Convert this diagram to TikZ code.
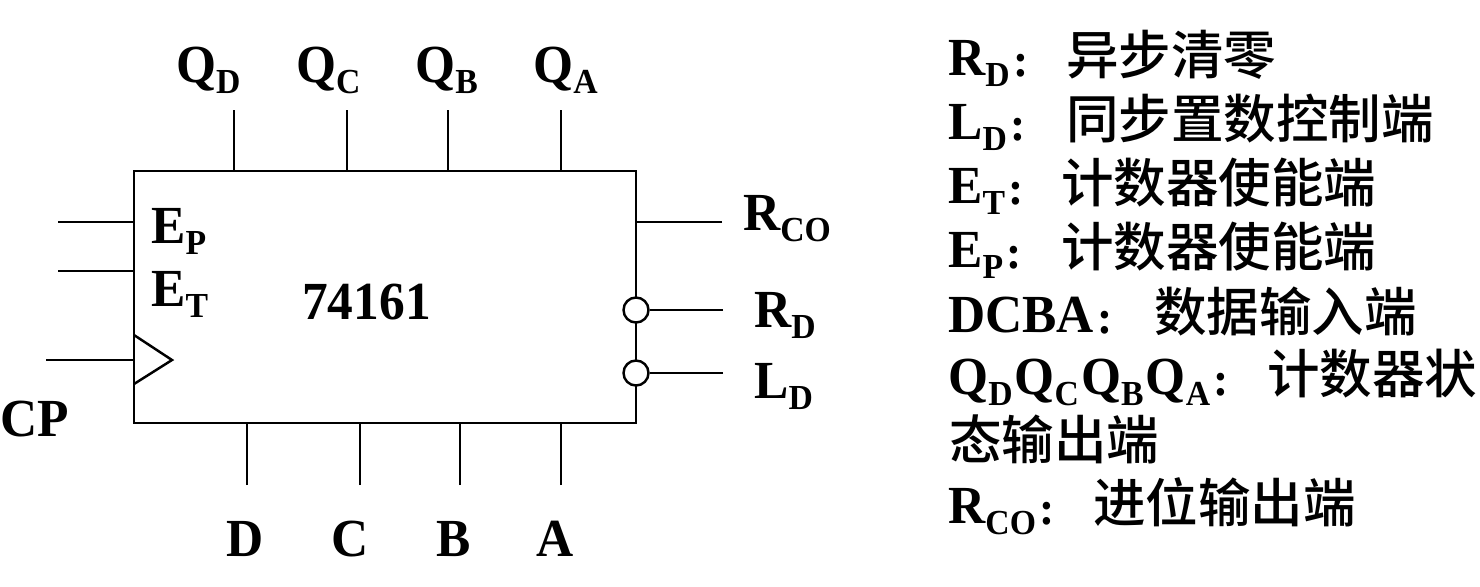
\documentclass[tikz,border=0pt]{standalone}
\usepackage{fontspec}
\setmainfont{Liberation Serif}[FakeStretch=0.96]
\newfontfamily\cjkfont{Noto Sans CJK SC}[BoldFont={* Medium}]
\usepackage{tikz}
\usetikzlibrary{positioning}
\newcommand{\pinsub}[2]{#1\raisebox{-6.3pt}{\fontsize{20}{20}\selectfont #2}}
\newcommand{\pincolon}{\hspace{2pt}\raisebox{-1pt}{\fontsize{27}{27}\selectfont :}}
\newcommand{\cjktext}[1]{{\fontsize{29.9}{32}\selectfont\cjkfont\bfseries #1}}
\begin{document}
\begin{tikzpicture}[x=0.02cm,y=-0.02cm,line width=1.4pt]
        \tikzstyle{chip}=[rectangle,draw,minimum width=502*0.02cm,minimum height=252*0.02cm,inner sep=0pt]
        \tikzstyle{bubble}=[circle,draw,fill=white,minimum size=25*0.02cm,inner sep=0pt]
        \tikzstyle{pin}=[anchor=base west,inner sep=0pt,font=\fontsize{30.5}{32}\selectfont\bfseries]
        \tikzstyle{note}=[pin]
        \useasboundingbox (0,0) rectangle (1480,586);
        \begin{scope}
        \node[chip](chip) at (385,297){};
        \node[bubble](rdb) at (636,310){};
        \node[bubble](ldb) at (636,373){};
        \coordinate (tria) at (134,335);
        \coordinate (trib) at (172,360);
        \coordinate (tric) at (134,384);
        \draw (tria) -- (trib) -- (tric);
        % ends of the pins
        \coordinate (qdend) at (234,110);
        \coordinate (qcend) at (347,110);
        \coordinate (qbend) at (448,110);
        \coordinate (qaend) at (561,110);
        \coordinate (dend) at (247,485);
        \coordinate (cend) at (360,485);
        \coordinate (bend) at (460,485);
        \coordinate (aend) at (561,485);
        \coordinate (epend) at (58,222);
        \coordinate (etend) at (58,271);
        \coordinate (cpend) at (46,360);
        \coordinate (rcoend) at (722,222);
        \coordinate (rdend) at (723,310);
        \coordinate (ldend) at (723,373);
        \draw (qdend) -- (qdend |- chip.north);
        \draw (qcend) -- (qcend |- chip.north);
        \draw (qbend) -- (qbend |- chip.north);
        \draw (qaend) -- (qaend |- chip.north);
        \draw (dend) -- (dend |- chip.south);
        \draw (cend) -- (cend |- chip.south);
        \draw (bend) -- (bend |- chip.south);
        \draw (aend) -- (aend |- chip.south);
        \draw (epend) -- (epend -| chip.west);
        \draw (etend) -- (etend -| chip.west);
        \draw (cpend) -- (cpend -| chip.west);
        \draw (rcoend) -- (rcoend -| chip.east);
        \draw (rdend) -- (rdb);
        \draw (ldend) -- (ldb);
        \end{scope}
        \begin{scope}
        \node[pin](qd) at (175,82){\pinsub{Q}{D}};
        \node[pin](qc) at (295,82){\pinsub{Q}{C}};
        \node[pin](qb) at (414,82){\pinsub{Q}{B}};
        \node[pin](qa) at (532,82){\pinsub{Q}{A}};
        \node[pin](ep) at (150,243){\pinsub{E}{P}};
        \node[pin](et) at (150,306){\pinsub{E}{T}};
        \node[pin](name) at (301,319){74161};
        \node[pin](cp) at (-1,436){CP};
        \node[pin](rco) at (742,230){\pinsub{R}{CO}};
        \node[pin](rd) at (753,327){\pinsub{R}{D}};
        \node[pin](ld) at (753,398){\pinsub{L}{D}};
        \node[pin](d) at (225,556){D};
        \node[pin](c) at (330,556){C};
        \node[pin](b) at (435,556){B};
        \node[pin](a) at (535,556){A};
        \end{scope}
        \begin{scope}
        \node[note](nrd) at (947,75){\pinsub{R}{D}\pincolon};
        \node[note](nrdt) at (1065,74){\cjktext{异步清零}};
        \node[note](nld) at (947,139){\pinsub{L}{D}\pincolon};
        \node[note](nldt) at (1065,138){\cjktext{同步置数控制端}};
        \node[note](net) at (947,203){\pinsub{E}{T}\pincolon};
        \node[note](nett) at (1060,202){\cjktext{计数器使能端}};
        \node[note](nep) at (947,267){\pinsub{E}{P}\pincolon};
        \node[note](nept) at (1060,266){\cjktext{计数器使能端}};
        \node[note](nin) at (947,332){DCBA\pincolon};
        \node[note](nint) at (1153,331){\cjktext{数据输入端}};
        \node[note](nq) at (947,394){\pinsub{Q}{D}\hspace{1.2pt}\pinsub{Q}{C}\hspace{1.2pt}\pinsub{Q}{B}\hspace{1.2pt}\pinsub{Q}{A}\pincolon};
        \node[note](nqt) at (1266,393){\cjktext{计数器状}};
        \node[note](nqu) at (948,459){\cjktext{态输出端}};
        \node[note](nco) at (947,523){\pinsub{R}{CO}\pincolon};
        \node[note](ncot) at (1092,522){\cjktext{进位输出端}};
        \end{scope}
    \end{tikzpicture}
\end{document}
